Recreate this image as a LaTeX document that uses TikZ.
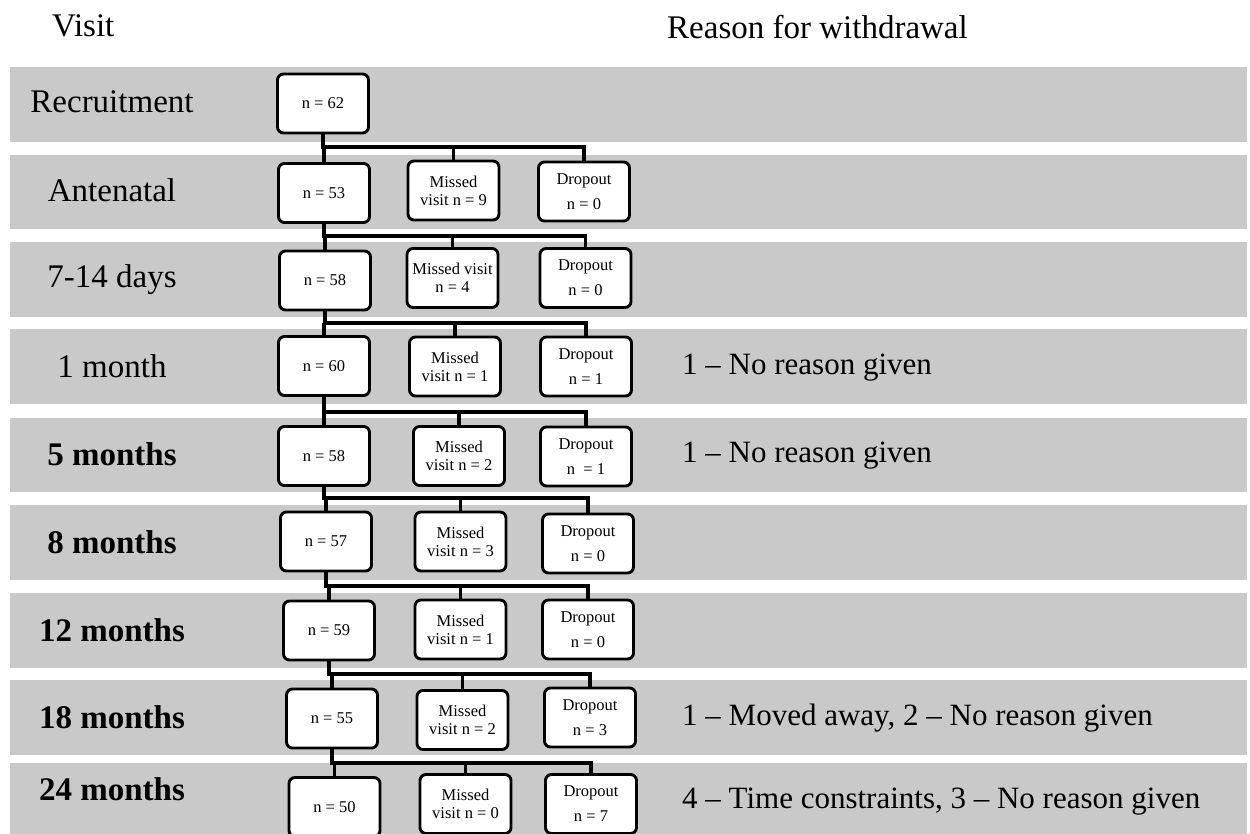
\documentclass[tikz,border=0pt]{standalone}
\usepackage{fontspec}
\setmainfont{Liberation Serif}
\definecolor{bandgray}{RGB}{201,201,201}

\begin{document}
\begin{tikzpicture}[x=1pt, y=-1pt,
      every node/.append style={inner sep=0pt},
      link/.style={line width=3.2pt},
      nbox/.style={draw, line width=2.9pt, fill=white, rounded corners=6pt,
        minimum width=91pt, minimum height=59pt, align=center,
        font=\fontsize{16.5}{18}\selectfont}]
    \tikzstyle{dropbox} = [nbox, font=\fontsize{16.5}{25}\selectfont]
    \tikzstyle{visit} = [anchor=base, font=\fontsize{33}{38}\selectfont]
    \tikzstyle{late} = [anchor=base, font=\fontsize{33}{38}\selectfont\bfseries]
    \tikzstyle{reason} = [anchor=base west, font=\fontsize{31}{36}\selectfont]
    \useasboundingbox (0,0) rectangle (1250,834);
    \clip (0,0) rectangle (1250,834);
    % grey bands, one per visit
    \fill[bandgray] (10,67) rectangle (1247,142);
    \fill[bandgray] (10,155) rectangle (1247,229);
    \fill[bandgray] (10,242) rectangle (1247,317);
    \fill[bandgray] (10,329) rectangle (1247,404);
    \fill[bandgray] (10,418) rectangle (1247,492);
    \fill[bandgray] (10,505) rectangle (1247,580);
    \fill[bandgray] (10,593) rectangle (1247,668);
    \fill[bandgray] (10,680) rectangle (1247,755);
    \fill[bandgray] (10,763) rectangle (1247,840);

    \node (hvisit) [anchor=base west, font=\fontsize{33}{38}\selectfont] at (52,37) {Visit};
    \node (hreason) [anchor=base west, font=\fontsize{33}{38}\selectfont] at (667,39) {Reason for withdrawal};

    \node (l1) [visit] at (112,113) {Recruitment};
    \node (l2) [visit] at (112,202) {Antenatal};
    \node (l3) [visit] at (112,288) {7-14 days};
    \node (l4) [visit] at (112,377) {1 month};
    \node (l5) [late] at (112,465) {5 months};
    \node (l6) [late] at (112,553) {8 months};
    \node (l7) [late] at (112,641) {12 months};
    \node (l8) [late] at (112,728) {18 months};
    \node (l9) [late] at (112,800) {24 months};

    \node (m1) [nbox] at (323,103.5) {n = 62};
    \node (m2) [nbox] at (324,193) {n = 53};
    \node (x2) [nbox] at (453.5,190.5) {Missed\\visit n = 9};
    \node (d2) [dropbox] at (584,191.5) {Dropout\\n = 0};
    \node (m3) [nbox] at (325,280.5) {n = 58};
    \node (x3) [nbox] at (452.5,278) {Missed visit\\n = 4};
    \node (d3) [dropbox] at (585.5,278) {Dropout\\n = 0};
    \node (m4) [nbox] at (324,366) {n = 60};
    \node (x4) [nbox] at (455,366.5) {Missed\\visit n = 1};
    \node (d4) [dropbox] at (586,366.5) {Dropout\\n = 1};
    \node (m5) [nbox] at (324,456) {n = 58};
    \node (x5) [nbox] at (459,456) {Missed\\visit n = 2};
    \node (d5) [dropbox] at (586,456.5) {Dropout\\n\ \ = 1};
    \node (m6) [nbox] at (326,541.5) {n = 57};
    \node (x6) [nbox] at (460.5,541.5) {Missed\\visit n = 3};
    \node (d6) [dropbox] at (588,543.5) {Dropout\\n = 0};
    \node (m7) [nbox] at (329,630.5) {n = 59};
    \node (x7) [nbox] at (460.5,629.5) {Missed\\visit n = 1};
    \node (d7) [dropbox] at (588,629.5) {Dropout\\n = 0};
    \node (m8) [nbox] at (332,718.5) {n = 55};
    \node (x8) [nbox] at (462.5,720) {Missed\\visit n = 2};
    \node (d8) [dropbox] at (590,717.5) {Dropout\\n = 3};
    \node (m9) [nbox] at (334.5,807) {n = 50};
    \node (x9) [nbox] at (465.5,804) {Missed\\visit n = 0};
    \node (d9) [dropbox] at (591,804) {Dropout\\n = 7};

    % split bars between visits
    \coordinate (bar1) at (0,147);
    \coordinate (bar2) at (0,236);
    \coordinate (bar3) at (0,323);
    \coordinate (bar4) at (0,412);
    \coordinate (bar5) at (0,498);
    \coordinate (bar6) at (0,586);
    \coordinate (bar7) at (0,674);
    \coordinate (bar8) at (0,763);
    \draw[link] (m1.south) |- (d2.north |- bar1) -- (d2.north);
    \draw[link] (m2.north |- bar1) -- (m2.north);
    \draw[link] (x2.north |- bar1) -- (x2.north);
    \draw[link] (m2.south) |- (d3.north |- bar2) -- (d3.north);
    \draw[link] (m3.north |- bar2) -- (m3.north);
    \draw[link] (x3.north |- bar2) -- (x3.north);
    \draw[link] (m3.south) |- (d4.north |- bar3) -- (d4.north);
    \draw[link] (m4.north |- bar3) -- (m4.north);
    \draw[link] (x4.north |- bar3) -- (x4.north);
    \draw[link] (m4.south) |- (d5.north |- bar4) -- (d5.north);
    \draw[link] (m5.north |- bar4) -- (m5.north);
    \draw[link] (x5.north |- bar4) -- (x5.north);
    \draw[link] (m5.south) |- (d6.north |- bar5) -- (d6.north);
    \draw[link] (m6.north |- bar5) -- (m6.north);
    \draw[link] (x6.north |- bar5) -- (x6.north);
    \draw[link] (m6.south) |- (d7.north |- bar6) -- (d7.north);
    \draw[link] (m7.north |- bar6) -- (m7.north);
    \draw[link] (x7.north |- bar6) -- (x7.north);
    \draw[link] (m7.south) |- (d8.north |- bar7) -- (d8.north);
    \draw[link] (m8.north |- bar7) -- (m8.north);
    \draw[link] (x8.north |- bar7) -- (x8.north);
    \draw[link] (m8.south) |- (d9.north |- bar8) -- (d9.north);
    \draw[link] (m9.north |- bar8) -- (m9.north);
    \draw[link] (x9.north |- bar8) -- (x9.north);

    \node (r4) [reason] at (682,374) {1 – No reason given};
    \node (r5) [reason] at (682,462) {1 – No reason given};
    \node (r8) [reason] at (682,725) {1 – Moved away, 2 – No reason given};
    \node (r9) [reason] at (682,808) {4 – Time constraints, 3 – No reason given};
\end{tikzpicture}
\end{document}
